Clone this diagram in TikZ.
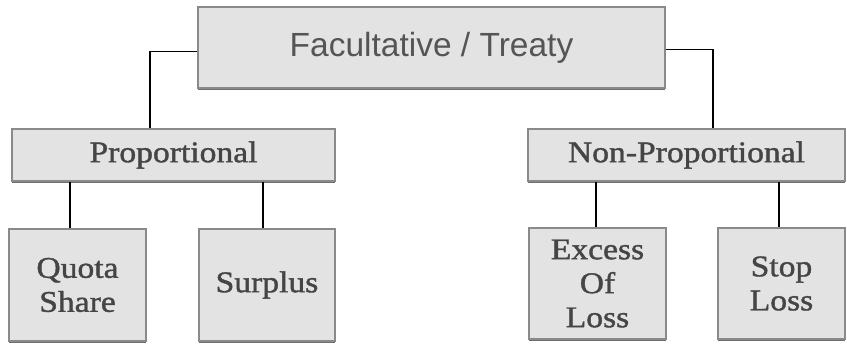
\documentclass[tikz,border=0pt]{standalone}
\usepackage{fontspec}
\setmainfont{Liberation Serif}[FakeStretch=1.12, FakeBold=1.3]
\newfontfamily\headfont{Liberation Sans}
\definecolor{boxfill}{HTML}{E3E3E3}
\definecolor{boxline}{HTML}{8A8A8A}
\definecolor{boxshade}{HTML}{6E6E6E}
\definecolor{serifink}{HTML}{454545}
\definecolor{sansink}{HTML}{555555}
\begin{document}
\begin{tikzpicture}[x=1pt,y=-1pt,
  card/.style={draw=boxline, line width=1.4pt, fill=boxfill, inner sep=0pt,
    align=center, text=serifink,
    font=\fontsize{30}{34}\selectfont},
  link/.style={draw=black, line width=1.6pt}]
\useasboundingbox (0,0) rectangle (847,344);

% shaded lower edges
\foreach \a/\b/\y in {198/665/88, 12/335/181, 528/845/181, 9/146/341, 199/335/341, 529/666/339, 718/845/339}
  \fill[boxshade] (\a,\y) rectangle (\b,\y+2.5);

\node[card, minimum width=467pt, minimum height=81pt, text=sansink,
  font=\headfont\fontsize{33.5}{40}\selectfont] (top) at (431.5,47.5) {Facultative / Treaty};

\node[card, minimum width=323pt, minimum height=52pt] (prop) at (173.5,155) {Proportional};
\node[card, minimum width=317pt, minimum height=52pt] (nonprop) at (686.5,155) {Non-Proportional};

\node[card, minimum width=137pt, minimum height=112pt] (quota) at (77.5,285) {Quota\\Share};
\node[card, minimum width=136pt, minimum height=112pt] (surplus) at (267,285) {Surplus};
\node[card, minimum width=137pt, minimum height=111pt] (excess) at (597.5,283.5) {Excess\\Of\\Loss};
\node[card, minimum width=127pt, minimum height=111pt] (stop) at (781.5,283.5) {Stop\\Loss};

\coordinate (lx) at (150,0);
\coordinate (rx) at (713,0);
\draw[link] ([yshift=-4pt]top.west) -| (prop.north -| lx);
\draw[link] ([yshift=-2pt]top.east) -| (nonprop.north -| rx);

\coordinate (qx) at (70,0);
\coordinate (sx) at (263,0);
\coordinate (ex) at (596,0);
\coordinate (tx) at (779,0);
\draw[link] (prop.south -| qx) -- (quota.north -| qx);
\draw[link] (prop.south -| sx) -- (surplus.north -| sx);
\draw[link] (nonprop.south -| ex) -- (excess.north -| ex);
\draw[link] (nonprop.south -| tx) -- (stop.north -| tx);
\end{tikzpicture}
\end{document}
